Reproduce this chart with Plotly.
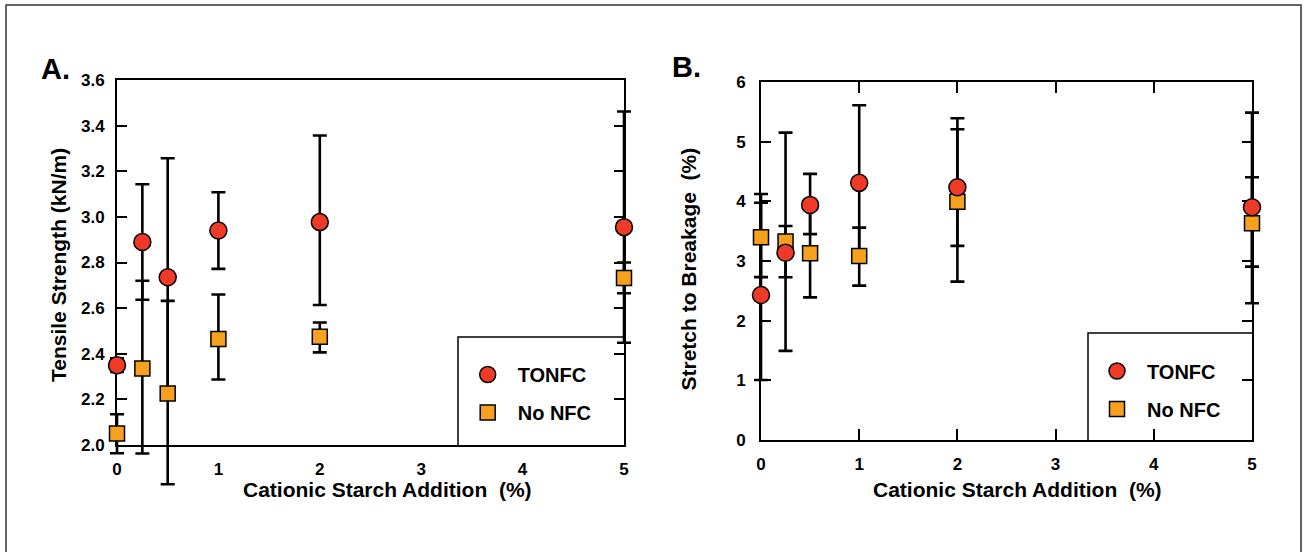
import plotly.graph_objects as go

# Cationic starch addition levels (%)
starch_tonfc = [0, 0.25, 0.5, 1, 2, 5]
starch_nonfc = [0, 0.25, 0.5, 1, 2, 5]

# Panel A: tensile strength (kN/m)
tensile_tonfc = [2.35, 2.89, 2.735, 2.94, 2.977, 2.955]
tensile_tonfc_err_plus = [0.03, 0.253, 0.522, 0.168, 0.38, 0.507]
tensile_tonfc_err_minus = [0.03, 0.253, 0.522, 0.168, 0.363, 0.507]
tensile_nonfc = [2.05, 2.335, 2.226, 2.465, 2.474, 2.732]
tensile_nonfc_err_plus = [0.085, 0.385, 0.406, 0.195, 0.063, 0.068]
tensile_nonfc_err_minus = [0.086, 0.372, 0.398, 0.178, 0.068, 0.067]

# Panel B: stretch to breakage (%)
stretch_tonfc = [2.43, 3.14, 3.94, 4.31, 4.236, 3.9]
stretch_tonfc_err_plus = [1.546, 0.447, 0.52, 1.30, 0.972, 1.586]
stretch_tonfc_err_minus = [1.424, 0.412, 0.49, 1.30, 0.983, 1.607]
stretch_nonfc = [3.40, 3.325, 3.13, 3.085, 3.995, 3.633]
stretch_nonfc_err_plus = [0.724, 1.826, 0.74, 0.474, 1.397, 0.77]
stretch_nonfc_err_minus = [0.67, 1.831, 0.74, 0.497, 1.34, 0.727]

x_ticks = [0, 1, 2, 3, 4, 5]
names = ["TONFC", "No NFC"]

W, H = 1304, 552
RED = "#EE3A26"
ORANGE = "#F7A01E"
FONT = "Liberation Sans, Arial, sans-serif"

# plot frames in pixels: (left, right, top, bottom) and their value ranges
FRAME_A = (117, 624, 80, 445)
FRAME_B = (761, 1252, 82, 440)
XR = (0, 5)
YR_A = (2.0, 3.6)
YR_B = (0, 6)


def px(x):
    return x / W


def py(y):
    return 1 - y / H


def extended(frame, xr, yr, pad_x=25, pad_top=12, pad_bottom=100):
    """Domains/ranges of an invisible axis pair with the same scale as the
    visible frame, but extended so error bars past the frame are not clipped."""
    l, r, t, b = frame
    sx = (xr[1] - xr[0]) / (r - l)
    sy = (yr[1] - yr[0]) / (b - t)
    xd = [px(l - pad_x), px(r + pad_x)]
    xrng = [xr[0] - pad_x * sx, xr[1] + pad_x * sx]
    yd = [py(b + pad_bottom), py(t - pad_top)]
    yrng = [yr[0] - pad_bottom * sy, yr[1] + pad_top * sy]
    return xd, xrng, yd, yrng


fig = go.Figure()

# empty traces so the visible frames are laid out
for xa, ya in (("x", "y"), ("x2", "y2")):
    fig.add_trace(go.Scatter(x=[None], y=[None], mode="markers", xaxis=xa, yaxis=ya,
                             showlegend=False, hoverinfo="skip"))


def err(plus, minus):
    return dict(type="data", array=plus, arrayminus=minus, symmetric=False,
                color="black", thickness=2.6, width=7, visible=True)


def add_panel(xa, ya, legend, x1, y1, e1p, e1m, x2, y2, e2p, e2m):
    # error bars first so that all markers sit on top of them
    clear = dict(color="rgba(0,0,0,0)", size=1, line=dict(width=0))
    fig.add_trace(go.Scatter(x=x1, y=y1, mode="markers", marker=clear, error_y=err(e1p, e1m),
                             xaxis=xa, yaxis=ya, showlegend=False, hoverinfo="skip"))
    fig.add_trace(go.Scatter(x=x2, y=y2, mode="markers", marker=clear, error_y=err(e2p, e2m),
                             xaxis=xa, yaxis=ya, showlegend=False, hoverinfo="skip"))
    fig.add_trace(go.Scatter(x=x2, y=y2, mode="markers", name=names[1], legend=legend,
                             legendgroup=legend + "b", legendrank=2,
                             marker=dict(symbol="square", size=15, color=ORANGE,
                                         line=dict(color="black", width=1.5)),
                             xaxis=xa, yaxis=ya, cliponaxis=False))
    fig.add_trace(go.Scatter(x=x1, y=y1, mode="markers", name=names[0], legend=legend,
                             legendgroup=legend + "a", legendrank=1,
                             marker=dict(symbol="circle", size=17, color=RED,
                                         line=dict(color="black", width=1.5)),
                             xaxis=xa, yaxis=ya, cliponaxis=False))


add_panel("x3", "y3", "legend", starch_tonfc, tensile_tonfc, tensile_tonfc_err_plus, tensile_tonfc_err_minus,
          starch_nonfc, tensile_nonfc, tensile_nonfc_err_plus, tensile_nonfc_err_minus)
add_panel("x4", "y4", "legend2", starch_tonfc, stretch_tonfc, stretch_tonfc_err_plus, stretch_tonfc_err_minus,
          starch_nonfc, stretch_nonfc, stretch_nonfc_err_plus, stretch_nonfc_err_minus)

tickfont = dict(family=FONT, size=17, color="black", weight="bold")
common = dict(showgrid=False, zeroline=False, showline=True, linecolor="black", linewidth=2,
              tickcolor="black", tickwidth=2, tickfont=tickfont, fixedrange=True, automargin=False)

xdA, xrA, ydA, yrA = extended(FRAME_A, XR, YR_A)
xdB, xrB, ydB, yrB = extended(FRAME_B, XR, YR_B)
hidden = dict(visible=False, showgrid=False, zeroline=False, fixedrange=True, automargin=False)

legend_common = dict(xanchor="left", yanchor="top", bgcolor="rgba(0,0,0,0)", borderwidth=0,
                     itemwidth=50, traceorder="grouped", tracegroupgap=9,
                     font=dict(family=FONT, size=20, color="black", weight="bold"))

fig.update_layout(
    width=W, height=H, margin=dict(l=0, r=0, t=0, b=0, autoexpand=False),
    paper_bgcolor="white", plot_bgcolor="rgba(0,0,0,0)",
    font=dict(family=FONT, color="black"),
    # visible frames
    xaxis=dict(domain=[px(FRAME_A[0]), px(FRAME_A[1])], range=list(XR), tickvals=x_ticks, ticks="",
               mirror=True, anchor="y", ticklabelstandoff=8, **common),
    yaxis=dict(domain=[py(FRAME_A[3]), py(FRAME_A[2])], range=list(YR_A), dtick=0.2, tick0=2.0,
               tickformat=".1f", ticks="inside", ticklen=10, mirror="allticks", anchor="x",
               ticklabelstandoff=7, **common),
    xaxis2=dict(domain=[px(FRAME_B[0]), px(FRAME_B[1])], range=list(XR), tickvals=x_ticks, ticks="inside",
                ticklen=11, mirror="allticks", anchor="y2", ticklabelstandoff=8, **common),
    yaxis2=dict(domain=[py(FRAME_B[3]), py(FRAME_B[2])], range=list(YR_B), dtick=1, ticks="inside",
                ticklen=10, mirror="allticks", anchor="x2", ticklabelstandoff=10, **common),
    # data layers sharing each frame's scale
    xaxis3=dict(domain=xdA, range=xrA, anchor="y3", **hidden),
    yaxis3=dict(domain=ydA, range=yrA, anchor="x3", **hidden),
    xaxis4=dict(domain=xdB, range=xrB, anchor="y4", **hidden),
    yaxis4=dict(domain=ydB, range=yrB, anchor="x4", **hidden),
    legend=dict(x=px(457.7), y=py(355), **legend_common),
    legend2=dict(x=px(1087), y=py(351.5), **legend_common),
)

shapes = [
    # outer frame
    dict(type="rect", xref="paper", yref="paper", x0=px(6), x1=px(1301), y0=-0.05, y1=py(5),
         line=dict(color="#333333", width=1.5)),
    # legend boxes (right and bottom edges are the axes)
    dict(type="path", xref="paper", yref="paper",
         path=f"M {px(458)} {py(445)} L {px(458)} {py(337)} L {px(624)} {py(337)}",
         line=dict(color="black", width=1.5)),
    dict(type="path", xref="paper", yref="paper",
         path=f"M {px(1088)} {py(440)} L {px(1088)} {py(333)} L {px(1252)} {py(333)}",
         line=dict(color="black", width=1.5)),
]
fig.update_layout(shapes=shapes)

title_font = dict(family=FONT, size=21, color="black", weight="bold")
panel_font = dict(family=FONT, size=29, color="black", weight="bold")
annotations = [
    dict(text="A.", x=px(39), y=py(69), xanchor="left", yanchor="middle", font=panel_font),
    dict(text="B.", x=px(670), y=py(66.5), xanchor="left", yanchor="middle", font=panel_font),
    dict(text="Tensile Strength (kN/m)", x=px(58), y=py(265), textangle=-90,
         xanchor="center", yanchor="middle", font=title_font),
    dict(text="Cationic Starch Addition  (%)", x=px(387), y=py(489),
         xanchor="center", yanchor="middle", font=title_font),
    dict(text="Stretch to Breakage  (%)", x=px(688), y=py(268.5), textangle=-90,
         xanchor="center", yanchor="middle", font=title_font),
    dict(text="Cationic Starch Addition  (%)", x=px(1017), y=py(489),
         xanchor="center", yanchor="middle", font=title_font),
]
for a in annotations:
    a.update(xref="paper", yref="paper", showarrow=False)
fig.update_layout(annotations=annotations)

fig.write_html("out.html")
